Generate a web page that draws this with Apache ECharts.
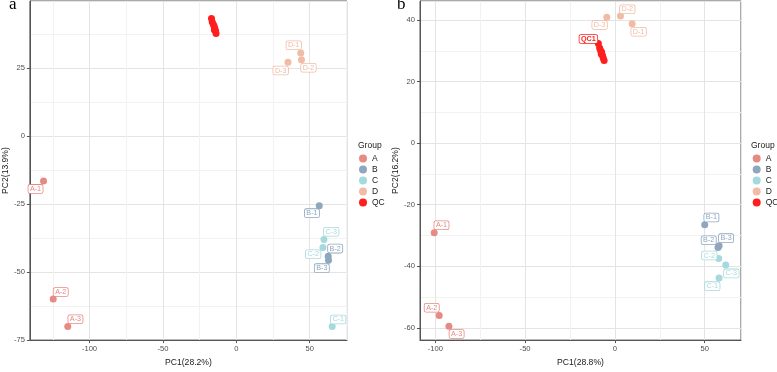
<!DOCTYPE html>
<html>
<head>
<meta charset="utf-8">
<script src="https://cdn.jsdelivr.net/npm/echarts@6/dist/echarts.min.js"></script>
<style>
  html, body { margin: 0; padding: 0; background: #fff; }
  #chart { width: 777px; height: 372px; }
</style>
</head>
<body>
<div id="chart"></div>
<script>
// groups
var groups = ['A', 'B', 'C', 'D', 'QC'];

// panel a (PC1 28.2%, PC2 13.9%)
var aNamesA = ['A-1', 'A-2', 'A-3'];
var aXA = [-131.3, -124.7, -114.8];
var aYA = [-16.5, -59.9, -70.0];
var aNamesB = ['B-1', 'B-2', 'B-3'];
var aXB = [56.5, 62.6, 62.8];
var aYB = [-25.6, -44.2, -45.7];
var aNamesC = ['C-1', 'C-2', 'C-3'];
var aXC = [65.3, 59.0, 59.7];
var aYC = [-70.0, -41.0, -38.0];
var aNamesD = ['D-1', 'D-2', 'D-3'];
var aXD = [43.9, 44.4, 35.2];
var aYD = [30.5, 28.0, 27.1];
var aNamesQC = ['QC1', 'QC2', 'QC3', 'QC4', 'QC5', 'QC6', 'QC7', 'QC8'];
var aXQC = [-16.9, -16.4, -15.6, -15.0, -14.6, -14.9, -14.1, -13.8];
var aYQC = [43.2, 41.9, 41.0, 40.2, 39.4, 38.9, 38.6, 37.7];

// panel b (PC1 28.8%, PC2 16.2%)
var bNamesA = ['A-1', 'A-2', 'A-3'];
var bXA = [-100.6, -97.8, -92.4];
var bYA = [-29.1, -56.0, -59.5];
var bNamesB = ['B-1', 'B-2', 'B-3'];
var bXB = [50.0, 57.4, 58.0];
var bYB = [-26.5, -33.9, -33.3];
var bNamesC = ['C-1', 'C-2', 'C-3'];
var bXC = [58.0, 57.8, 61.7];
var bYC = [-43.8, -37.5, -39.6];
var bNamesD = ['D-1', 'D-2', 'D-3'];
var bXD = [9.6, 3.1, -4.5];
var bYD = [38.8, 41.3, 40.9];
var bNamesQC = ['QC1', 'QC2', 'QC3', 'QC4', 'QC5', 'QC6', 'QC7', 'QC8'];
var bXQC = [-9.2, -8.5, -8.0, -7.4, -7.6, -6.9, -6.5, -6.0];
var bYQC = [32.4, 30.9, 30.1, 29.6, 29.0, 28.5, 27.7, 26.9];

// styling
var colors = { A: '#E68A84', B: '#8EA6BE', C: '#A6D9DD', D: '#F1BBA5', QC: '#FF1E1E' };
var font = 'Liberation Sans, Arial, sans-serif';

// where each repelled label box sits relative to its point (px)
var labelOffsets = {
  a: {'A-1': [-8, 8], 'A-2': [7.5, -7], 'A-3': [7.7, -7.3],
      'B-1': [-7.3, 7.5], 'B-2': [7, -7.7], 'B-3': [-6.7, 7.8],
      'C-1': [6, -7], 'C-2': [-9.7, 6.7], 'C-3': [7.3, -7.7],
      'D-1': [-7, -7.7], 'D-2': [7, 8], 'D-3': [-7.3, 8.3]},
  b: {'A-1': [7.3, -7.5], 'A-2': [-7.5, -7.7], 'A-3': [7.7, 7.7],
      'B-1': [6.7, -7.2], 'B-2': [-9.3, -7.3], 'B-3': [7, -7.5],
      'C-1': [-6.8, 8.2], 'C-2': [-9.4, -3], 'C-3': [5.6, 8.4],
      'D-1': [6.5, 8], 'D-2': [6.8, -6.8], 'D-3': [-7.2, 7.7],
      'QC1': [-10, -4.4]}
};

function labelFor(panel, name, group) {
  var off = labelOffsets[panel][name];
  if (!off) return { show: false };
  return {
    show: true,
    position: 'inside',
    offset: off,
    formatter: '{b}',
    color: colors[group],
    textBorderWidth: 0,
    fontSize: 7.2,
    fontFamily: font,
    fontWeight: group === 'QC' ? 'bold' : 'normal',
    backgroundColor: '#fff',
    borderColor: colors[group],
    borderWidth: 0.8,
    borderRadius: 1.5,
    padding: [1, 1.5, 0, 1.5],
    lineHeight: 7
  };
}

function makeSeries(panel, idx, group, names, xs, ys) {
  return {
    type: 'scatter',
    name: group,
    xAxisIndex: idx,
    yAxisIndex: idx,
    symbolSize: 7,
    itemStyle: { color: colors[group], opacity: 1 },
    emphasis: { disabled: true },
    z: group === 'QC' ? 3 : 2,
    data: xs.map(function (x, i) {
      return { value: [x, ys[i]], name: names[i], label: labelFor(panel, names[i], group) };
    })
  };
}

function xAxisCfg(idx, min, max, name, split) {
  return {
    type: 'value', gridIndex: idx, min: min, max: max, splitNumber: split,
    name: name, nameLocation: 'middle', nameGap: 16,
    nameTextStyle: { fontSize: 8.6, color: '#1a1a1a', fontFamily: font },
    axisLine: { show: true, onZero: false, lineStyle: { color: '#555', width: 1 } },
    axisTick: { show: true, length: 3, lineStyle: { color: '#555' } },
    axisLabel: { fontSize: 7.6, color: '#4d4d4d', margin: 5, fontFamily: font,
                 showMinLabel: false, showMaxLabel: false },
    splitLine: { show: true, lineStyle: { color: '#e4e4e4', width: 1 } },
    minorTick: { show: false, splitNumber: 2 },
    minorSplitLine: { show: true, lineStyle: { color: '#f2f2f2', width: 1 } }
  };
}

function yAxisCfg(idx, min, max, name, opts) {
  var cfg = {
    type: 'value', gridIndex: idx, min: min, max: max,
    name: name, nameLocation: 'middle', nameGap: 18, nameRotate: 90,
    nameTextStyle: { fontSize: 8.6, color: '#1a1a1a', fontFamily: font },
    axisLine: { show: true, onZero: false, lineStyle: { color: '#555', width: 1 } },
    axisTick: { show: true, length: 3, lineStyle: { color: '#555' } },
    axisLabel: { fontSize: 7.6, color: '#4d4d4d', margin: 5, fontFamily: font,
                 showMinLabel: opts.showMin, showMaxLabel: false },
    splitLine: { show: true, lineStyle: { color: '#e4e4e4', width: 1 } },
    minorTick: { show: false, splitNumber: 2 },
    minorSplitLine: { show: true, lineStyle: { color: '#f2f2f2', width: 1 } }
  };
  if (opts.interval) cfg.interval = opts.interval;
  if (opts.split) cfg.splitNumber = opts.split;
  return cfg;
}

var myChart = echarts.init(document.getElementById('chart'), null, { renderer: 'canvas' });

var option = {
  backgroundColor: '#fff',
  animation: false,
  textStyle: { fontFamily: font },
  title: [
    { text: 'a', left: 9, top: -4, padding: 0,
      textStyle: { fontFamily: 'Liberation Serif, Times New Roman, serif', fontSize: 17, fontWeight: 'normal', color: '#000' } },
    { text: 'b', left: 397, top: -4, padding: 0,
      textStyle: { fontFamily: 'Liberation Serif, Times New Roman, serif', fontSize: 17, fontWeight: 'normal', color: '#000' } },
    { text: 'Group', left: 358, top: 141, padding: 0,
      textStyle: { fontFamily: font, fontSize: 8.5, fontWeight: 'normal', color: '#1a1a1a' } },
    { text: 'Group', left: 751, top: 141, padding: 0,
      textStyle: { fontFamily: font, fontSize: 8.5, fontWeight: 'normal', color: '#1a1a1a' } }
  ],
  legend: [
    { orient: 'vertical', left: 359, top: 154, padding: 0, itemWidth: 8, itemHeight: 8, itemGap: 2,
      icon: 'circle', data: groups, selectedMode: false,
      textStyle: { fontSize: 8.5, color: '#1a1a1a', fontFamily: font } },
    { orient: 'vertical', left: 752.7, top: 154, padding: 0, itemWidth: 8, itemHeight: 8, itemGap: 2,
      icon: 'circle', data: groups, selectedMode: false,
      textStyle: { fontSize: 8.5, color: '#1a1a1a', fontFamily: font } }
  ],
  grid: [
    { left: 27, top: 1, width: 320, height: 345, show: true, borderColor: '#555', borderWidth: 1, containLabel: false },
    { left: 420, top: 1, width: 321, height: 345, show: true, borderColor: '#555', borderWidth: 1, containLabel: false }
  ],
  xAxis: [
    xAxisCfg(0, -140.6, 75.4, 'PC1(28.2%)', 5),
    xAxisCfg(1, -108.5, 70.2, 'PC1(28.8%)', 4)
  ],
  yAxis: [
    yAxisCfg(0, -75, 49.6, 'PC2(13.9%)', { interval: 25, showMin: true }),
    yAxisCfg(1, -64, 46.2, 'PC2(16.2%)', { split: 5, showMin: false })
  ],
  series: [
    makeSeries('a', 0, 'A', aNamesA, aXA, aYA),
    makeSeries('a', 0, 'B', aNamesB, aXB, aYB),
    makeSeries('a', 0, 'C', aNamesC, aXC, aYC),
    makeSeries('a', 0, 'D', aNamesD, aXD, aYD),
    makeSeries('a', 0, 'QC', aNamesQC, aXQC, aYQC),
    makeSeries('b', 1, 'A', bNamesA, bXA, bYA),
    makeSeries('b', 1, 'B', bNamesB, bXB, bYB),
    makeSeries('b', 1, 'C', bNamesC, bXC, bYC),
    makeSeries('b', 1, 'D', bNamesD, bXD, bYD),
    makeSeries('b', 1, 'QC', bNamesQC, bXQC, bYQC)
  ]
};

myChart.setOption(option);
window.addEventListener('resize', function () {
  myChart.resize();
});
</script>
</body>
</html>
